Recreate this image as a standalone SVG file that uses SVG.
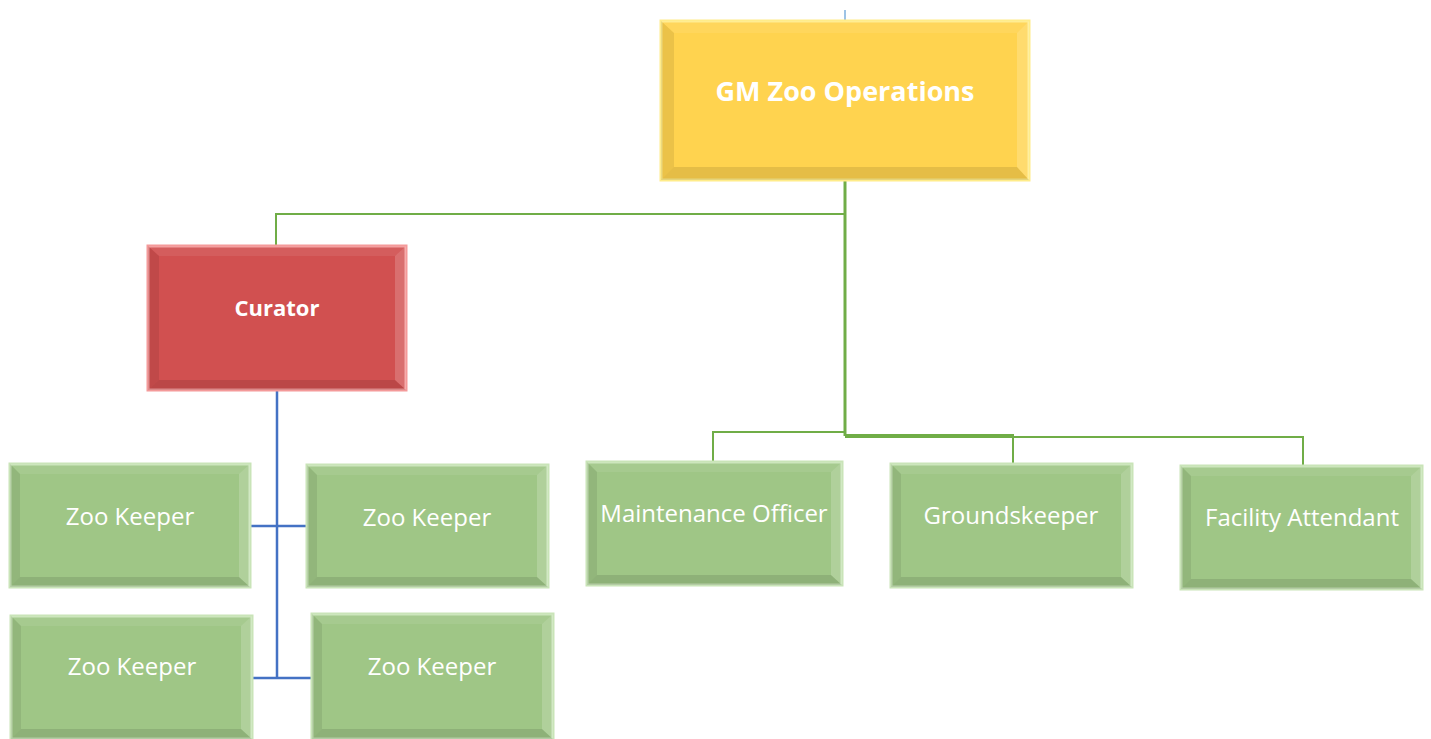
<svg xmlns="http://www.w3.org/2000/svg" width="1431" height="739" viewBox="0 0 1431 739">
<style>
.conn-g{fill:none;stroke:#70ad47;stroke-width:2}
.conn-gt{fill:none;stroke:#70ad47;stroke-width:3}
.conn-b{fill:none;stroke:#4472c4;stroke-width:2.5}
.top{fill:#ffffff;fill-opacity:0.08}
.lft{fill:#000000;fill-opacity:0.08}
.bot{fill:#000000;fill-opacity:0.10}
.rgt{fill:#ffffff;fill-opacity:0.18}
.gold{fill:#ffd34f;stroke:#ffec8a;stroke-width:3}
.red{fill:#d15050;stroke:#f49a9a;stroke-width:3}
.green{fill:#9fc686;stroke:#c9e4b8;stroke-width:3}
.t{fill:#ffffff;font-family:"Open Sans","Noto Sans",sans-serif;text-anchor:middle}
.tb{font-weight:bold}
</style>
<rect width="1431" height="739" fill="#ffffff"/>
<g id="connectors">
<line x1="845" y1="10" x2="845" y2="21" stroke="#9dc3e6" stroke-width="2"/>
<polyline class="conn-g" points="845,214 276,214 276,246"/>
<line class="conn-gt" x1="845" y1="180" x2="845" y2="436"/>
<polyline class="conn-g" points="845,432 713,432 713,462"/>
<polyline class="conn-g" points="845,435 1013,435 1013,464"/>
<polyline class="conn-g" points="845,437 1303,437 1303,466"/>
<line class="conn-b" x1="277" y1="390" x2="277" y2="679"/>
<line class="conn-b" x1="251" y1="526" x2="307" y2="526"/>
<line class="conn-b" x1="252" y1="678" x2="312" y2="678"/>
</g>
<g id="gm">
<rect class="gold" x="661" y="21" width="368" height="159"/>
<polygon class="top" points="661,21 1029,21 1017,33 674,33"/>
<polygon class="lft" points="661,21 674,33 674,167 661,180"/>
<polygon class="bot" points="661,180 674,167 1017,167 1029,180"/>
<polygon class="rgt" points="1029,21 1017,33 1017,167 1029,180"/>
<text class="t tb" x="845" y="101" font-size="27">GM Zoo Operations</text>
</g>
<g id="curator">
<rect class="red" x="148" y="246" width="258" height="144"/>
<polygon class="top" points="148,246 406,246 395,256 159,256"/>
<polygon class="lft" points="148,246 159,256 159,380 148,390"/>
<polygon class="bot" points="148,390 159,380 395,380 406,390"/>
<polygon class="rgt" points="406,246 395,256 395,380 406,390"/>
<text class="t tb" x="277" y="316" font-size="22">Curator</text>
</g>
<g id="zk1">
<rect class="green" x="10" y="464" width="240" height="123"/>
<polygon class="top" points="10,464 250,464 239,474 20,474"/>
<polygon class="lft" points="10,464 20,474 20,577 10,587"/>
<polygon class="bot" points="10,587 20,577 239,577 250,587"/>
<polygon class="rgt" points="250,464 239,474 239,577 250,587"/>
<text class="t" x="130" y="525" font-size="24">Zoo Keeper</text>
</g>
<g id="zk2">
<rect class="green" x="307" y="465" width="241" height="122"/>
<polygon class="top" points="307,465 548,465 537,475 317,475"/>
<polygon class="lft" points="307,465 317,475 317,577 307,587"/>
<polygon class="bot" points="307,587 317,577 537,577 548,587"/>
<polygon class="rgt" points="548,465 537,475 537,577 548,587"/>
<text class="t" x="427" y="526" font-size="24">Zoo Keeper</text>
</g>
<g id="zk3">
<rect class="green" x="11" y="616" width="241" height="123"/>
<polygon class="top" points="11,616 252,616 241,626 21,626"/>
<polygon class="lft" points="11,616 21,626 21,729 11,739"/>
<polygon class="bot" points="11,739 21,729 241,729 252,739"/>
<polygon class="rgt" points="252,616 241,626 241,729 252,739"/>
<text class="t" x="132" y="675" font-size="24">Zoo Keeper</text>
</g>
<g id="zk4">
<rect class="green" x="312" y="614" width="241" height="125"/>
<polygon class="top" points="312,614 553,614 542,624 322,624"/>
<polygon class="lft" points="312,614 322,624 322,729 312,739"/>
<polygon class="bot" points="312,739 322,729 542,729 553,739"/>
<polygon class="rgt" points="553,614 542,624 542,729 553,739"/>
<text class="t" x="432" y="675" font-size="24">Zoo Keeper</text>
</g>
<g id="maint">
<rect class="green" x="587" y="462" width="255" height="123"/>
<polygon class="top" points="587,462 842,462 831,472 597,472"/>
<polygon class="lft" points="587,462 597,472 597,575 587,585"/>
<polygon class="bot" points="587,585 597,575 831,575 842,585"/>
<polygon class="rgt" points="842,462 831,472 831,575 842,585"/>
<text class="t" x="714" y="522" font-size="24">Maintenance Officer</text>
</g>
<g id="grounds">
<rect class="green" x="891" y="464" width="241" height="123"/>
<polygon class="top" points="891,464 1132,464 1121,474 901,474"/>
<polygon class="lft" points="891,464 901,474 901,577 891,587"/>
<polygon class="bot" points="891,587 901,577 1121,577 1132,587"/>
<polygon class="rgt" points="1132,464 1121,474 1121,577 1132,587"/>
<text class="t" x="1011" y="524" font-size="24">Groundskeeper</text>
</g>
<g id="facility">
<rect class="green" x="1181" y="466" width="241" height="123"/>
<polygon class="top" points="1181,466 1422,466 1411,476 1191,476"/>
<polygon class="lft" points="1181,466 1191,476 1191,579 1181,589"/>
<polygon class="bot" points="1181,589 1191,579 1411,579 1422,589"/>
<polygon class="rgt" points="1422,466 1411,476 1411,579 1422,589"/>
<text class="t" x="1302" y="526" font-size="24">Facility Attendant</text>
</g>
</svg>
